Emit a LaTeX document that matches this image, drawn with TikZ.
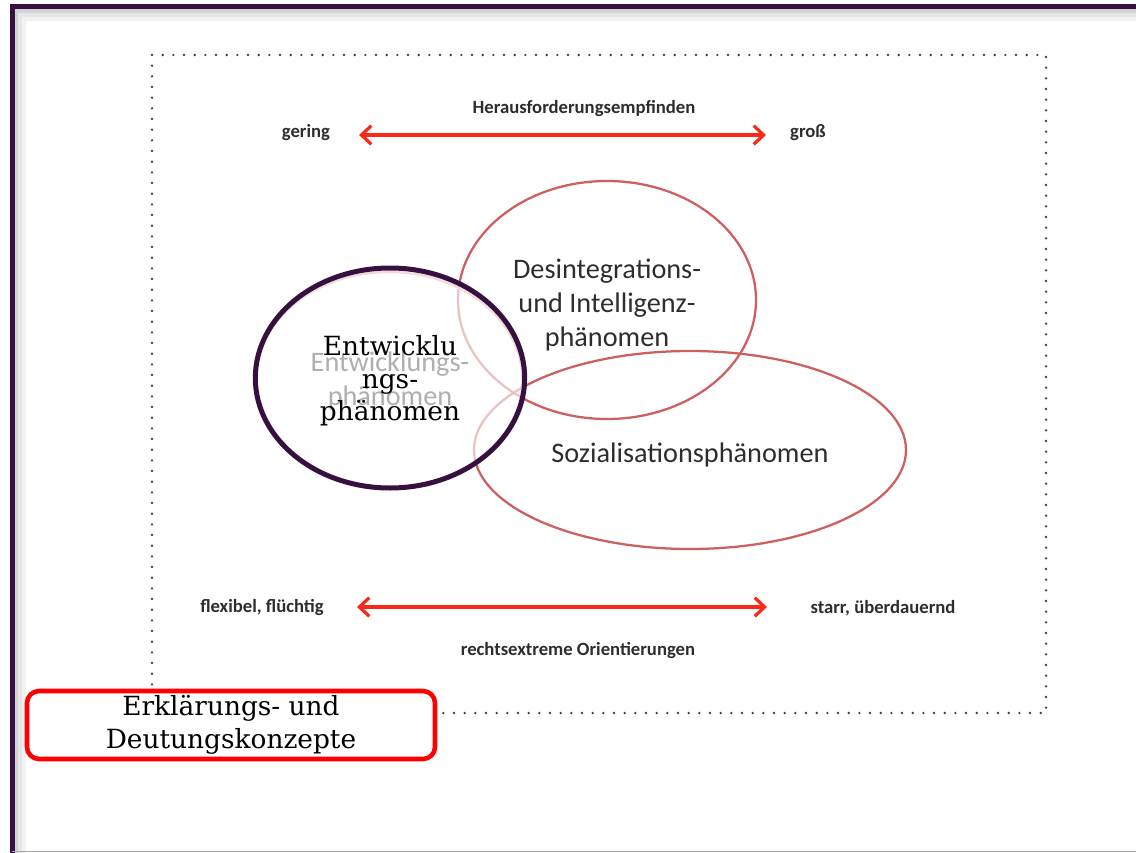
\documentclass[tikz,border=0pt]{standalone}
\usepackage{fontspec}
\setmainfont{Carlito}
\newfontfamily\slab{DejaVu Serif}
\usetikzlibrary{arrows.meta,shapes.geometric}
\definecolor{framepurple}{HTML}{36113F}
\definecolor{ellred}{RGB}{205,95,95}
\definecolor{arrred}{RGB}{250,40,25}
\definecolor{labelgray}{RGB}{45,45,45}
\definecolor{boxred}{RGB}{255,0,0}
\begin{document}
\begin{tikzpicture}[x=0.75pt,y=-0.75pt,
  lbl/.style={font=\fontsize{14}{16}\selectfont\bfseries, text=labelgray, inner sep=0pt},
  elltext/.style={font=\fontsize{21.2}{25.5}\selectfont, text=labelgray, align=center, inner sep=0pt},
  redell/.style={ellipse, draw=ellred, line width=1.7pt, inner sep=0pt},
  scalearrow/.style={draw=arrred, line width=2.4pt, {Straight Barb[length=7.5pt,width=14pt]}-{Straight Barb[length=7.5pt,width=14pt]}},
  slabtext/.style={font=\slab\fontsize{19.8}{24.5}\selectfont, text=black, align=center, inner sep=0pt}]
\useasboundingbox (0,0) rectangle (1136,853);
% outer frame with shadow
\foreach \d/\o in {4/0.35,8/0.2,12/0.1}{
  \draw[black!50, line width=3pt, opacity=\o] (1140,7+\d) -- (12+\d,7+\d) -- (12+\d,860);
}
\draw[draw=framepurple, line width=3.75pt] (1140,6.5) -- (12,6.5) -- (12,860);
\draw[draw=framepurple!40, line width=1.2pt] (12,851.5) -- (1140,851.5);
% dotted panel
\draw[black!75, line width=2pt, line cap=round, dash pattern=on 0pt off 8pt]
  (152,55) rectangle (1046,713);
% top scale
\node[lbl] (hf) at (584,109) {Herausforderungsempfinden};
\node[lbl] (gering) at (306,133) {gering};
\node[lbl] (gross) at (808,133) {groß};
\coordinate (tl) at (359,135);
\coordinate (tr) at (766,135);
\draw[scalearrow] (tl) -- (tr);
% bottom scale
\node[lbl] (flex) at (262,608) {flexibel, flüchtig};
\node[lbl] (starr) at (883,608) {starr, überdauernd};
\node[lbl] (reo) at (578,651) {rechtsextreme Orientierungen};
\coordinate (bl) at (357,607);
\coordinate (br) at (767,607);
\draw[scalearrow] (bl) -- (br);
% red ellipses
\node[redell, minimum width=223.5pt, minimum height=178.5pt] (des) at (607,300) {};
\node[redell, minimum width=324pt, minimum height=148.5pt] (soz) at (690,450) {};
\node[redell, draw=ellred!60, minimum width=200pt, minimum height=162pt] (entold) at (389,380) {};
\node[elltext] (destext) at (607,305) {Desintegrations-\\und Intelligenz-\\phänomen};
\node[elltext] (soztext) at (690,455) {Sozialisationsphänomen};
\node[elltext] (enttextold) at (390,381) {Entwicklungs-\\phänomen};
% overlay ellipse
\node[ellipse, draw=framepurple, line width=3.75pt, fill=white, fill opacity=0.62,
  minimum width=202pt, minimum height=165pt, inner sep=0pt] (ent) at (390,378) {};
\node[slabtext] (enttext) at (390,381) {Entwicklu\\ngs-\\phänomen};
% label box
\node[draw=boxred, line width=3.4pt, rounded corners=9pt, fill=white,
  minimum width=306pt, minimum height=51pt, inner sep=0pt, slabtext] (konz) at (231,725)
  {Erklärungs- und\\Deutungskonzepte};
\end{tikzpicture}
\end{document}
